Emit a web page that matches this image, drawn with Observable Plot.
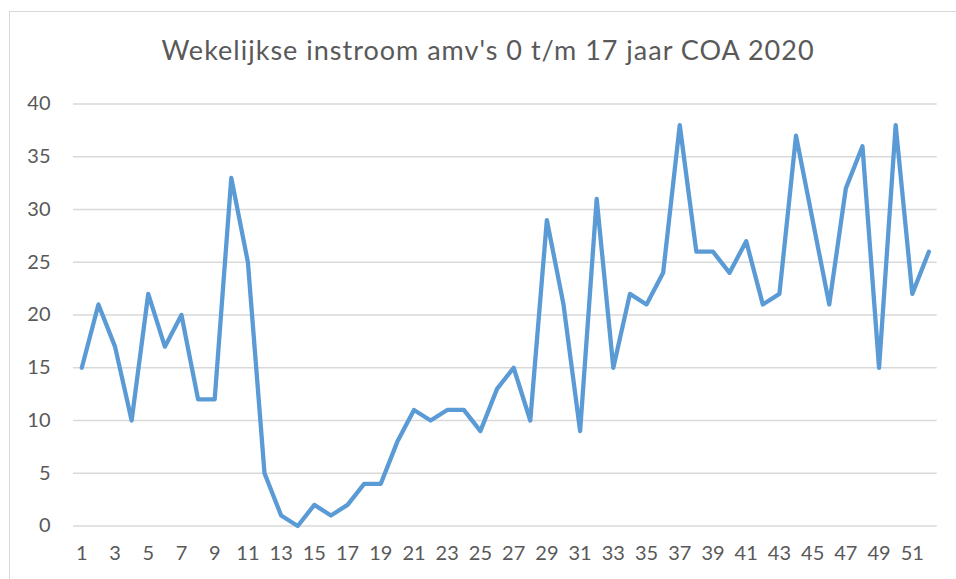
<!DOCTYPE html>
<html>
<head>
<meta charset="utf-8">
<script src="https://cdn.jsdelivr.net/npm/d3@7"></script>
<script src="https://cdn.jsdelivr.net/npm/@observablehq/plot@0.6"></script>
<style>
  html, body { margin: 0; padding: 0; background: #fff; overflow: hidden; }
  #wrap {
    position: absolute; left: 9px; top: 11px; right: 0; height: 600px;
    border-top: 1px solid #d9d9d9; border-left: 1px solid #d9d9d9;
    background: #fff;
  }
  #title {
    height: 69px; box-sizing: border-box; padding-top: 21px;
    font-family: Lato, "Open Sans", sans-serif; font-size: 27px; letter-spacing: 1px; color: #595959;
    text-align: center; padding-left: 10px; white-space: nowrap;
  }
</style>
</head>
<body>
<div id="wrap">
  <div id="title">Wekelijkse instroom amv's 0 t/m 17 jaar COA 2020</div>
  <div id="chart"></div>
</div>
<script>
const weeks = d3.range(1, 53);
const instroom = [15, 21, 17, 10, 22, 17, 20, 12, 12, 33,
                  25, 5, 1, 0, 2, 1, 2, 4, 4, 8,
                  11, 10, 11, 11, 9, 13, 15, 10, 29, 21,
                  9, 31, 15, 22, 21, 24, 38, 26, 26, 24,
                  27, 21, 22, 37, 29, 21, 32, 36, 15, 38,
                  22, 26];
const xTicks = [1, 3, 5, 7, 9, 11, 13, 15, 17, 19, 21, 23, 25, 27, 29, 31, 33, 35, 37, 39, 41, 43, 45, 47, 49, 51];
const yTicks = [0, 5, 10, 15, 20, 25, 30, 35, 40];

const data = weeks.map((w, i) => ({week: w, value: instroom[i]}));

const chart = Plot.plot({
  width: 946,
  height: 498,
  marginLeft: 63,
  marginRight: 19.3,
  marginTop: 22.5,
  marginBottom: 53.5,
  style: {fontFamily: "Lato, 'Open Sans', sans-serif", fontSize: "20px", color: "#595959", background: "#fff"},
  x: {type: "linear", domain: [0.5, 52.5]},
  y: {domain: [0, 40]},
  marks: [
    Plot.gridY(yTicks, {stroke: "#d9d9d9", strokeOpacity: 1, strokeWidth: 1.3}),
    Plot.axisY(yTicks, {tickSize: 0, tickPadding: 23, label: null, fill: "#595959", fontSize: 20}),
    Plot.axisX(xTicks, {tickSize: 0, tickPadding: 20, label: null, fill: "#595959", fontSize: 20, tickFormat: d => String(d)}),
    Plot.line(data, {x: "week", y: "value", stroke: "#5b9bd5", strokeWidth: 4.3, strokeLinejoin: "round", strokeLinecap: "round"})
  ]
});
document.getElementById("chart").appendChild(chart);
</script>
</body>
</html>
